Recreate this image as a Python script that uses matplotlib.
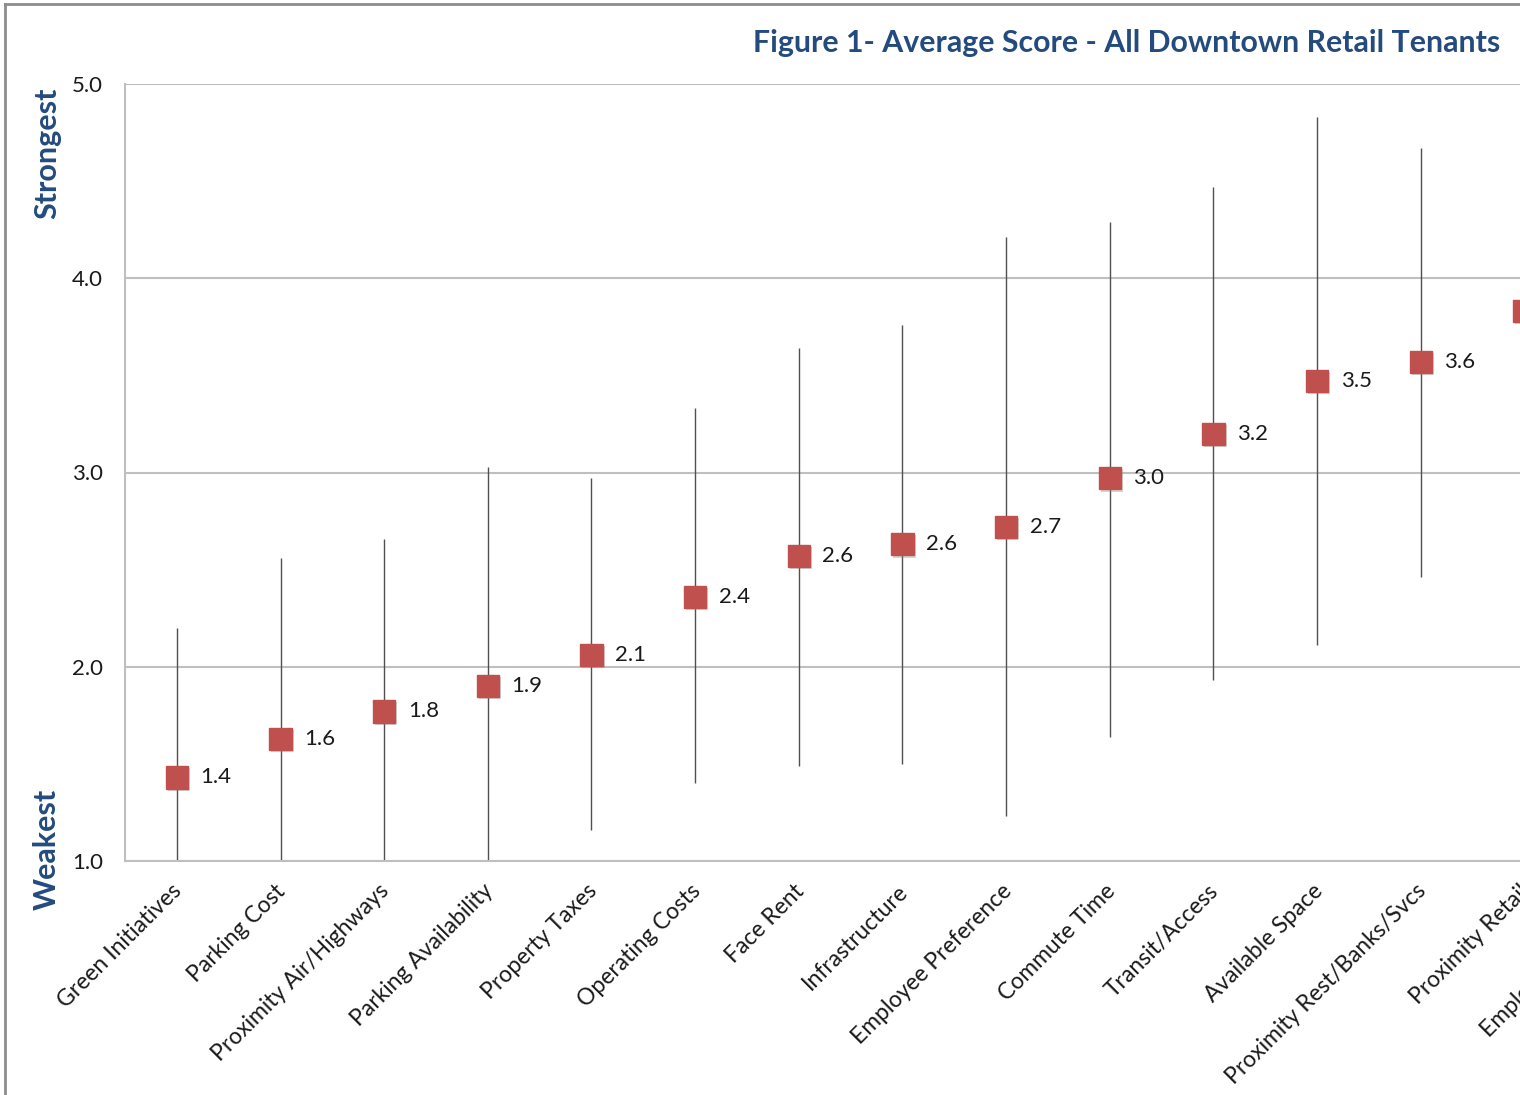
import matplotlib
matplotlib.use('Agg')
import matplotlib.pyplot as plt
import matplotlib.patheffects as pe
import matplotlib.transforms as mtransforms
from matplotlib.lines import Line2D
import numpy as np

plt.rcParams['font.family'] = ['Lato', 'DejaVu Sans']

# categories, mean scores and the spread lines (low / high)
categories = ['Green Initiatives', 'Parking Cost', 'Proximity Air/Highways',
              'Parking Availability', 'Property Taxes', 'Operating Costs',
              'Face Rent', 'Infrastructure', 'Employee Preference',
              'Commute Time', 'Transit/Access', 'Available Space',
              'Proximity Rest/Banks/Svcs', 'Proximity Retail', 'Employee Amenities']
scores = [1.43, 1.63, 1.77, 1.90, 2.06, 2.36, 2.57, 2.63, 2.72,
          2.97, 3.20, 3.47, 3.57, 3.83, 4.00]
score_labels = ['1.4', '1.6', '1.8', '1.9', '2.1', '2.4', '2.6', '2.6', '2.7',
                '3.0', '3.2', '3.5', '3.6', '3.8', '4.0']
low = [0.66, 0.70, 0.88, 0.77, 1.16, 1.40, 1.49, 1.50, 1.23,
       1.64, 1.93, 2.11, 2.46, 2.70, 2.90]
high = [2.20, 2.56, 2.66, 3.03, 2.97, 3.33, 3.64, 3.76, 4.21,
        4.29, 4.47, 4.83, 4.67, 4.95, 5.10]
y_ticks = [1.0, 2.0, 3.0, 4.0, 5.0]

blue = '#234B7E'
red = '#C0504D'

fig = plt.figure(figsize=(15.2, 10.95), dpi=100)
# axes runs past the right edge of the picture, as in the original screenshot
ax = fig.add_axes([125 / 1520, 1 - 861 / 1095, 1555 / 1520, 777 / 1095])

x = np.arange(len(categories))
ax.vlines(x, low, high, color='#505050', linewidth=1.0, zorder=2)
ax.plot(x, scores, linestyle='none', marker='s', markersize=16,
        color=red, markeredgecolor=red, zorder=3,
        path_effects=[pe.SimplePatchShadow(offset=(1.5, -1.5), shadow_rgbFace='#888888', alpha=0.35),
                      pe.Normal()])

for xi, yi, lab in zip(x, scores, score_labels):
    ax.annotate(lab, (xi, yi), xytext=(17, 0), textcoords='offset points',
                ha='left', va='center', fontsize=16, color='#1a1a1a', zorder=4)

ax.set_xlim(-0.5, len(categories) - 0.5)
ax.set_ylim(1.0, 5.0)
ax.set_yticks(y_ticks)
ax.set_yticklabels([f'{v:.1f}' for v in y_ticks], fontsize=16, color='#1a1a1a')
ax.set_xticks(x)
ax.set_xticklabels(categories, rotation=45, ha='right', rotation_mode='anchor',
                   fontsize=16.5, color='#1a1a1a')
ax.tick_params(axis='y', length=0, pad=16)
ax.tick_params(axis='x', length=0, pad=14)
shift = mtransforms.ScaledTranslation(-4 / 72, 0, fig.dpi_scale_trans)
for lbl in ax.get_xticklabels():
    lbl.set_transform(lbl.get_transform() + shift)

ax.yaxis.grid(True, color='#BFBFBF', linewidth=1.5)
ax.set_axisbelow(True)
for side in ['top', 'right']:
    ax.spines[side].set_visible(False)
for side in ['left', 'bottom']:
    ax.spines[side].set_color('#BFBFBF')
    ax.spines[side].set_linewidth(1.5)

fig.text(1500 / 1520, 1 - 43 / 1095, 'Figure 1- Average Score - All Downtown Retail Tenants',
         ha='right', va='center', fontsize=21.8, fontweight='bold', color=blue)
fig.text(47 / 1520, 1 - 153 / 1095, 'Strongest', rotation=90, ha='center', va='center',
         fontsize=22, fontweight='bold', color=blue)
fig.text(47 / 1520, 1 - 849 / 1095, 'Weakest', rotation=90, ha='center', va='center',
         fontsize=22, fontweight='bold', color=blue)

# screenshot frame on the top and left
fig.add_artist(Line2D([5 / 1520, 1], [1 - 4 / 1095, 1 - 4 / 1095], color='#8C8C8C', linewidth=2))
fig.add_artist(Line2D([5 / 1520, 5 / 1520], [0, 1 - 4 / 1095], color='#8C8C8C', linewidth=2))

fig.savefig('out.png', dpi=100)
